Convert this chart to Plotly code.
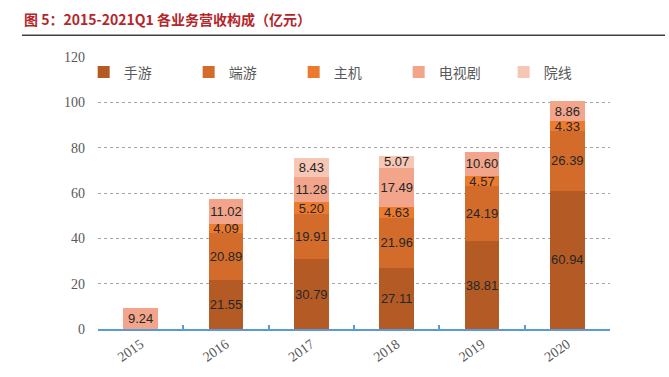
import plotly.graph_objects as go

years = ["2015", "2016", "2017", "2018", "2019", "2020"]
series_names = ["手游", "端游", "主机", "电视剧", "院线"]
mobile = [None, 21.55, 30.79, 27.11, 38.81, 60.94]
pc = [None, 20.89, 19.91, 21.96, 24.19, 26.39]
console = [None, 4.09, 5.20, 4.63, 4.57, 4.33]
tv = [9.24, 11.02, 11.28, 17.49, 10.60, 8.86]
cinema = [None, None, 8.43, 5.07, None, None]
y_ticks = [0, 20, 40, 60, 80, 100, 120]

colors = ["#B45B25", "#D36C2A", "#EC7B30", "#F2A58A", "#F7C7B6"]
values = [mobile, pc, console, tv, cinema]

fig = go.Figure()
for name, vals, col in zip(series_names, values, colors):
    fig.add_trace(go.Bar(
        x=years, y=vals, name=name, marker=dict(color=col, line=dict(width=0)),
        text=[("%.2f" % v) if v is not None else "" for v in vals],
        textposition="inside", insidetextanchor="middle", textangle=0,
        constraintext="none", cliponaxis=False,
        textfont=dict(family="Liberation Sans, Arial", size=13, color="#262626"),
        width=0.41,
    ))

fig.update_layout(
    barmode="stack",
    width=669, height=377,
    margin=dict(l=98, r=59, t=57, b=44),
    paper_bgcolor="white", plot_bgcolor="white",
    uniformtext=dict(minsize=13, mode="show"),
    showlegend=True,
    legend=dict(
        orientation="h", x=-0.028, xanchor="left", y=1.002, yanchor="top",
        traceorder="normal", bgcolor="rgba(0,0,0,0)",
        entrywidth=60, entrywidthmode="pixels", itemwidth=30,
        font=dict(family="Noto Sans CJK SC", size=14, color="#595959"),
    ),
    font=dict(family="Liberation Sans, Arial"),
)

fig.update_yaxes(
    range=[0, 120], tickvals=y_ticks, showgrid=True, gridcolor="#A6A6A6",
    griddash="dot", gridwidth=1, zeroline=False, showline=False,
    ticks="", ticklabelstandoff=12,
    tickfont=dict(family="Liberation Serif, DejaVu Serif", size=14, color="#595959"),
)
fig.update_xaxes(
    showline=True, linecolor="#5B9BD5", linewidth=1.5,
    ticks="inside", tickson="boundaries", ticklen=4, tickcolor="#5B9BD5", tickwidth=1.5,
    tickangle=-35, showgrid=False,
    tickfont=dict(family="Liberation Serif, DejaVu Serif", size=14, color="#595959"),
)

fig.add_annotation(
    text="图 5：2015-2021Q1 各业务营收构成（亿元）", xref="paper", yref="paper",
    x=(22 - 98) / 512, y=1 + (57 - 18) / 276, xanchor="left", yanchor="middle",
    showarrow=False,
    font=dict(family="Noto Sans CJK SC", size=14, color="#B5262B", weight="bold"),
)
fig.add_shape(
    type="line", xref="paper", yref="paper",
    x0=(22 - 98) / 512, x1=(665 - 98) / 512, y0=1 + (57 - 35) / 276, y1=1 + (57 - 35) / 276,
    line=dict(color="#404040", width=1.5),
)

fig.write_html("out.html")
